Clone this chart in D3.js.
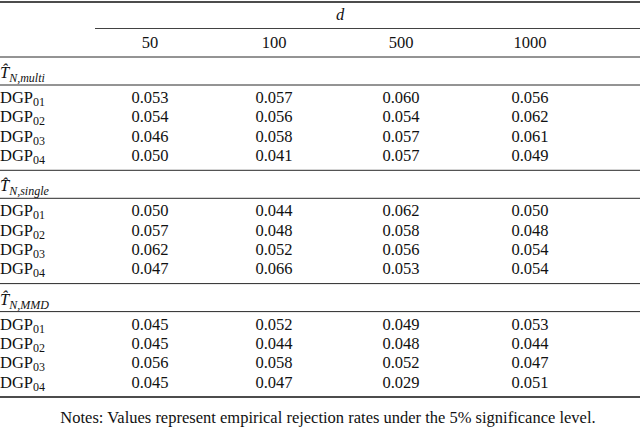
<!DOCTYPE html>
<html><head><meta charset="utf-8">
<script src="https://cdn.jsdelivr.net/npm/d3@7"></script>
<style>body{margin:0;background:#fff}text{font-family:"Liberation Serif","Times New Roman",serif;font-size:16.5px;fill:#111}</style>
</head><body><svg id="t" width="640" height="429"></svg>
<script>
var dims = ["50", "100", "500", "1000"];
var rowLabels = ["01", "02", "03", "04"];
var sections = [
  {sub: "N,multi", values: [[0.053,0.057,0.060,0.056],[0.054,0.056,0.054,0.062],[0.046,0.058,0.057,0.061],[0.050,0.041,0.057,0.049]]},
  {sub: "N,single", values: [[0.050,0.044,0.062,0.050],[0.057,0.048,0.058,0.048],[0.062,0.052,0.056,0.054],[0.047,0.066,0.053,0.054]]},
  {sub: "N,MMD", values: [[0.045,0.052,0.049,0.053],[0.045,0.044,0.048,0.044],[0.056,0.058,0.052,0.047],[0.045,0.047,0.029,0.051]]}
];
var note = "Notes: Values represent empirical rejection rates under the 5% significance level.";

var svg = d3.select("#t");
// column centres matching reference spacing
var colX = d3.scaleOrdinal().domain(dims).range([150, 274, 401, 530]);

function rule(y, x0, w) {
  svg.append("line").attr("x1", x0).attr("x2", 640).attr("y1", y).attr("y2", y)
    .attr("stroke", "#111").attr("stroke-width", w);
}
rule(2, 0, 1.4);
rule(28.5, 95, 0.8);
rule(57, 0, 0.9);
svg.append("text").attr("x", 340).attr("y", 20).attr("text-anchor", "middle").style("font-style", "italic").text("d");
svg.selectAll(".hd").data(dims).join("text").attr("x", d => colX(d)).attr("y", 48)
  .attr("text-anchor", "middle").text(d => d);

var secH = 113.3;
sections.forEach(function(s, i) {
  var top = 57 + i * secH;
  if (i > 0) rule(top, 0, 0.9);
  var lab = svg.append("text").attr("x", 0).attr("y", top + 21);
  lab.append("tspan").style("font-style", "italic").text("T\u0302");
  lab.append("tspan").attr("dy", 4).style("font-size", "12px").style("font-style", "italic").text(s.sub);
  rule(top + 28, 0, 0.9);
  s.values.forEach(function(row, r) {
    var y = top + 46 + r * 19.3;
    var t = svg.append("text").attr("x", 0).attr("y", y);
    t.append("tspan").text("DGP");
    t.append("tspan").attr("dy", 3).style("font-size", "12px").text(rowLabels[r]);
    svg.selectAll(null).data(row).join("text").attr("x", (v, j) => colX(dims[j])).attr("y", y)
      .attr("text-anchor", "middle").text(v => d3.format(".3f")(v));
  });
});
rule(397, 0, 1.4);
svg.append("text").attr("x", 328).attr("y", 423).attr("text-anchor", "middle").text(note);
</script></body></html>
